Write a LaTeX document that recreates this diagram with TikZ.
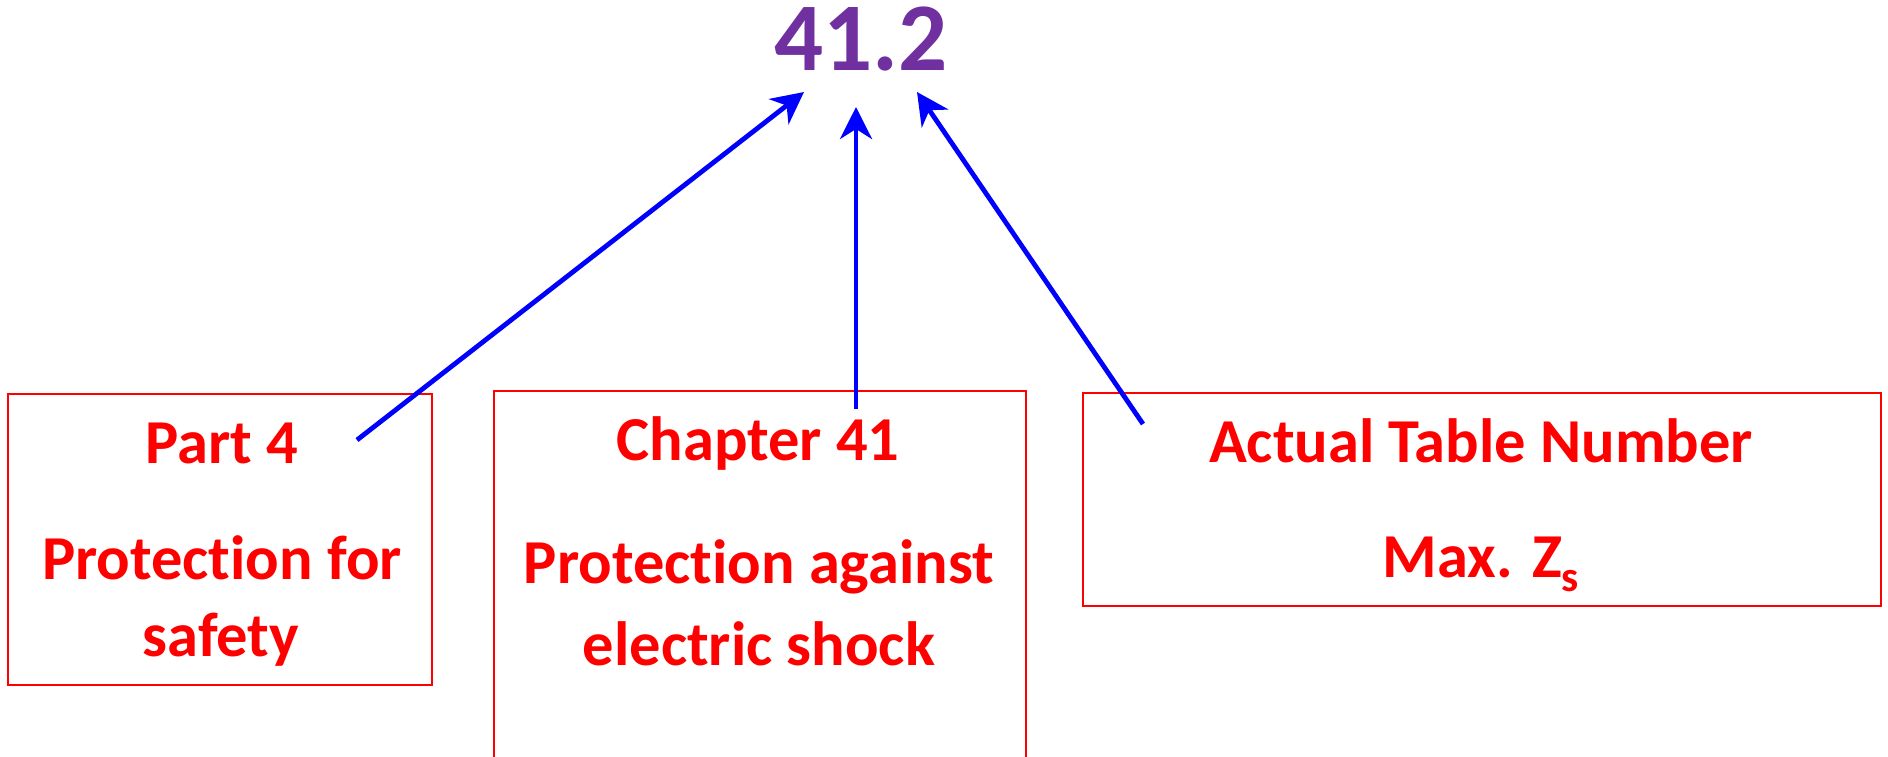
\documentclass[tikz,border=0pt]{standalone}
\usepackage{fontspec}
\setmainfont{Carlito}[RawFeature={-liga;-clig;-calt;-dlig}]
\usetikzlibrary{arrows.meta}
\definecolor{boxred}{HTML}{FF0000}
\definecolor{numpurple}{HTML}{7030A0}
\definecolor{arrblue}{HTML}{0000FF}
\begin{document}
\begin{tikzpicture}[x=0.5pt,y=-0.5pt,
  box/.style={draw=boxred, line width=1pt, inner sep=0pt, outer sep=0pt},
  lbl/.style={text=boxred, font=\fontsize{31.25}{31.25}\selectfont\bfseries, anchor=base, inner sep=0pt},
  arr/.style={draw=arrblue, line width=2.4pt, -{Stealth[length=16pt,width=16pt,inset=5pt]}}]
\useasboundingbox (0,0) rectangle (1888,756);
\clip (0,0) rectangle (1888,756);
% title
\node[font=\fontsize{48.5}{48.5}\selectfont\bfseries, text=numpurple, anchor=base, inner sep=0pt] (num) at (861,70) {41.2};
% boxes
\node[box, minimum width=212pt, minimum height=145.5pt] (b1) at (220,539.5) {};
\node[box, minimum width=266pt, minimum height=204.5pt] (b2) at (760,595.5) {};
\node[box, minimum width=399pt, minimum height=106.5pt] (b3) at (1482,499.5) {};
% box 1 text
\node[lbl] (t11) at (222,463) {Part 4};
\node[lbl] (t12) at (222,579) {Protect\kern0pt ion for};
\node[lbl] (t13) at (221,656) {safety};
% box 2 text
\node[lbl] (t21) at (758,460) {Chapter 41};
\node[lbl] (t22) at (759,583) {Protect\kern0pt ion against};
\node[lbl] (t23) at (759,665) {electric shock};
% box 3 text
\node[lbl] (t31) at (1481,462) {Actual Table Number};
\node[lbl] (t32) at (1481,577) {Max. Z\raisebox{-0.23em}{\fontsize{21.5}{21.5}\selectfont s}};
% arrow end points
\coordinate (a1s) at (357,440);
\coordinate (a1e) at (804,92);
\coordinate (a2s) at (856,409);
\coordinate (a2e) at (856,107);
\coordinate (a3s) at (1143,424);
\coordinate (a3e) at (917,92);
\draw[arr] (a1s) -- (a1e);
\draw[arr] (a2s) -- (a2e);
\draw[arr] (a3s) -- (a3e);
\end{tikzpicture}
\end{document}
